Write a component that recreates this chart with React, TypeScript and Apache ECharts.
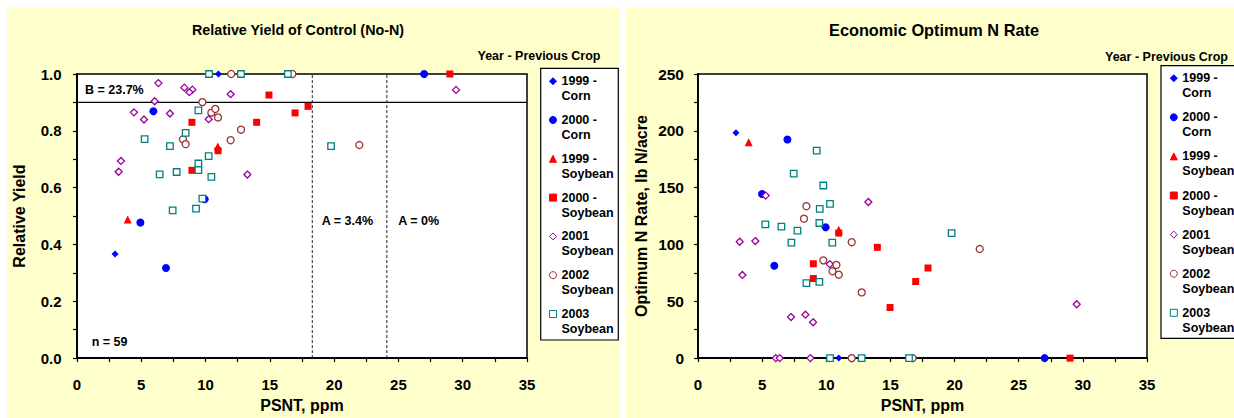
import React, { useEffect, useRef } from "react";
import * as echarts from "echarts";

// ---------- data ----------
const SERIES_NAMES = [
  "1999 -\nCorn",
  "2000 -\nCorn",
  "1999 -\nSoybean",
  "2000 -\nSoybean",
  "2001\nSoybean",
  "2002\nSoybean",
  "2003\nSoybean",
];

// Relative yield of control vs PSNT  [PSNT ppm, relative yield]
const ryCorn1999 = [[2.96, 0.366], [11.0, 1.0]];
const ryCorn2000 = [[5.94, 0.869], [9.93, 0.559], [4.93, 0.477], [6.92, 0.317], [27.0, 1.0]];
const rySoy1999 = [[3.94, 0.488], [10.95, 0.745]];
const rySoy2000 = [[8.94, 0.83], [8.94, 0.661], [14.93, 0.926], [13.97, 0.83], [16.96, 0.863], [17.97, 0.886], [29.0, 1.0], [10.97, 0.73]];
const rySoy2001 = [[6.33, 0.968], [8.35, 0.952], [8.97, 0.945], [8.74, 0.936], [11.95, 0.929], [6.04, 0.904], [4.43, 0.865], [5.21, 0.84], [7.23, 0.861], [10.24, 0.841], [3.42, 0.694], [3.24, 0.656], [13.25, 0.646], [29.48, 0.944]];
const rySoy2002 = [[12.0, 1.0], [16.75, 1.0], [9.75, 0.901], [10.45, 0.864], [10.76, 0.877], [10.97, 0.847], [12.76, 0.804], [8.24, 0.77], [8.45, 0.753], [11.95, 0.767], [21.96, 0.75]];
const rySoy2003 = [[10.27, 1.0], [12.75, 1.0], [16.4, 1.0], [9.44, 0.872], [8.45, 0.793], [5.26, 0.771], [7.23, 0.746], [10.24, 0.711], [9.44, 0.685], [9.44, 0.662], [6.43, 0.647], [7.75, 0.655], [10.45, 0.638], [9.75, 0.561], [7.44, 0.52], [9.26, 0.526], [19.76, 0.746]];

// Economic optimum N rate vs PSNT  [PSNT ppm, lb N/acre]
const eoCorn1999 = [[2.96, 198.4], [10.97, 0]];
const eoCorn2000 = [[6.97, 192.4], [4.99, 144.4], [9.95, 115.1], [5.95, 81.3], [27.02, 0]];
const eoSoy1999 = [[3.95, 190], [10.97, 113]];
const eoSoy2000 = [[8.99, 83], [8.99, 70], [13.98, 97.5], [14.97, 44.5], [16.97, 67.4], [17.93, 79.3], [29.0, 0], [10.97, 110]];
const eoSoy2001 = [[5.28, 143], [13.28, 137.4], [3.25, 102.4], [4.47, 103], [3.46, 73.2], [10.27, 82.7], [7.25, 36.1], [8.37, 38.2], [8.97, 31.5], [29.52, 47.4], [6.06, 0], [6.37, 0], [8.76, 0], [11.95, 0]];
const eoSoy2002 = [[8.45, 133.7], [8.26, 122.7], [11.98, 102], [9.77, 86], [10.79, 82], [10.48, 76.4], [10.97, 73.4], [12.76, 57.8], [21.96, 96], [11.98, 0], [16.73, 0]];
const eoSoy2003 = [[9.25, 182.5], [7.46, 162.3], [9.77, 151.9], [10.29, 135.7], [9.49, 131.3], [5.25, 117.7], [6.5, 115.7], [7.75, 112.2], [9.46, 118.9], [7.28, 101.6], [10.47, 101.6], [8.45, 66], [9.46, 67.1], [19.77, 109.9], [10.29, 0], [12.76, 0], [16.45, 0]];

// Reference lines on the relative yield chart
const bLineY = 0.9;
const aLinesX = [18.3, 24.1];
const xRange = [0, 35];
const ryRange = [0, 1];

// ---------- styles ----------
const FONT = "'Liberation Sans', Arial, Helvetica, sans-serif";
const MARKERS = [
  { symbol: "diamond", size: 7, color: "#0000FF", fill: "#0000FF", bw: 0 },
  { symbol: "circle", size: 8, color: "#0000FF", fill: "#0000FF", bw: 0 },
  { symbol: "triangle", size: 8, color: "#FF0000", fill: "#FF0000", bw: 0 },
  { symbol: "rect", size: 7, color: "#FF0000", fill: "#FF0000", bw: 0 },
  { symbol: "diamond", size: 7, color: "#990099", fill: "#FFFFFF", bw: 1.3 },
  { symbol: "circle", size: 7, color: "#993333", fill: "#FFFFFF", bw: 1.3 },
  { symbol: "rect", size: 6.5, color: "#008080", fill: "#FFFFFF", bw: 1.3 },
];

const RY_DATA = [ryCorn1999, ryCorn2000, rySoy1999, rySoy2000, rySoy2001, rySoy2002, rySoy2003];
const EO_DATA = [eoCorn1999, eoCorn2000, eoSoy1999, eoSoy2000, eoSoy2001, eoSoy2002, eoSoy2003];

function scatter(idx: number, data: number[][], axisIdx: number) {
  const m = MARKERS[idx];
  return {
    type: "scatter",
    name: SERIES_NAMES[idx],
    xAxisIndex: axisIdx,
    yAxisIndex: axisIdx,
    data,
    symbol: m.symbol,
    symbolSize: m.size,
    clip: false,
    z: 5,
    itemStyle: {
      color: m.fill,
      borderColor: m.color,
      borderWidth: m.bw,
      opacity: 1,
    },
  };
}

function xAxis(gridIndex: number) {
  return {
    gridIndex,
    type: "value",
    min: xRange[0],
    max: xRange[1],
    interval: 2.5,
    name: "PSNT, ppm",
    nameLocation: "middle",
    nameGap: 38,
    nameTextStyle: { fontFamily: FONT, fontWeight: "bold", fontSize: 16, color: "#000" },
    axisLine: { show: true, onZero: false, lineStyle: { color: "#000", width: 2 } },
    axisTick: { show: true, inside: false, length: 4, lineStyle: { color: "#000", width: 1.2 } },
    axisLabel: {
      margin: 19,
      fontFamily: FONT,
      fontWeight: "bold",
      fontSize: 15,
      color: "#000",
      formatter: (v: number) => (Math.abs(v % 5) < 1e-6 ? String(v) : ""),
    },
    splitLine: { show: false },
  };
}

const legendText = {
  fontFamily: FONT,
  fontWeight: "bold",
  fontSize: 12.5,
  lineHeight: 15,
  color: "#000",
};

function legend(left: number, top: number, gap: number) {
  return {
    data: SERIES_NAMES,
    orient: "vertical",
    left,
    top,
    padding: 0,
    itemWidth: 7,
    itemHeight: 7,
    itemGap: gap,
    selectedMode: false,
    z: 10,
    itemStyle: { borderWidth: 1 },
    // leading blank line keeps the icon level with the first text line
    formatter: (name: string) => "\n" + name,
    textStyle: legendText,
  };
}

export default function App() {
  const ref = useRef<HTMLDivElement>(null);

  useEffect(() => {
    if (!ref.current) return;
    const chart = echarts.init(ref.current, null, { renderer: "svg" });

    const series: any[] = [];
    RY_DATA.forEach((d, i) => series.push(scatter(i, d, 0)));
    EO_DATA.forEach((d, i) => series.push(scatter(i, d, 1)));
    series.push({
      type: "line",
      name: "B line",
      xAxisIndex: 0,
      yAxisIndex: 0,
      data: [[xRange[0], bLineY], [xRange[1], bLineY]],
      symbol: "none",
      silent: true,
      z: 3,
      lineStyle: { color: "#000", width: 1.3 },
    });
    aLinesX.forEach((x, i) =>
      series.push({
        type: "line",
        name: "A line " + i,
        xAxisIndex: 0,
        yAxisIndex: 0,
        data: [[x, ryRange[0]], [x, ryRange[1]]],
        symbol: "none",
        silent: true,
        z: 3,
        lineStyle: { color: "#222", width: 1, type: [3, 2] },
      })
    );

    const txt = (text: string, x: number, y: number, size: number, align = "left") => ({
      type: "text",
      x,
      y,
      z: 20,
      style: {
        text,
        fill: "#000",
        font: `bold ${size}px ${FONT}`,
        align,
        verticalAlign: "middle",
      },
    });

    chart.setOption({
      animation: false,
      backgroundColor: "transparent",
      grid: [
        { left: 77, top: 74, width: 450, height: 287, show: true, backgroundColor: "#fff", borderColor: "#000", borderWidth: 1.5 },
        { left: 698, top: 74, width: 449, height: 288, show: true, backgroundColor: "#fff", borderColor: "#000", borderWidth: 1.5 },
      ],
      xAxis: [xAxis(0), xAxis(1)],
      yAxis: [
        {
          gridIndex: 0,
          type: "value",
          min: ryRange[0],
          max: ryRange[1],
          interval: 0.1,
          name: "Relative Yield",
          nameLocation: "middle",
          nameGap: 50,
          nameTextStyle: { fontFamily: FONT, fontWeight: "bold", fontSize: 16, color: "#000" },
          axisLine: { show: true, lineStyle: { color: "#000", width: 2 } },
          axisTick: { show: true, length: 4, lineStyle: { color: "#000", width: 1.2 } },
          axisLabel: {
            margin: 15.5,
            fontFamily: FONT,
            fontWeight: "bold",
            fontSize: 15,
            color: "#000",
            formatter: (v: number) => (Math.round(v * 10) % 2 === 0 ? v.toFixed(1) : ""),
          },
          splitLine: { show: false },
        },
        {
          gridIndex: 1,
          type: "value",
          min: 0,
          max: 250,
          interval: 25,
          name: "Optimum N Rate, lb N/acre",
          nameLocation: "middle",
          nameGap: 49,
          nameTextStyle: { fontFamily: FONT, fontWeight: "bold", fontSize: 16, color: "#000" },
          axisLine: { show: true, lineStyle: { color: "#000", width: 2 } },
          axisTick: { show: true, length: 4, lineStyle: { color: "#000", width: 1.2 } },
          axisLabel: {
            margin: 14,
            fontFamily: FONT,
            fontWeight: "bold",
            fontSize: 15.5,
            color: "#000",
            formatter: (v: number) => (v % 50 === 0 ? String(v) : ""),
          },
          splitLine: { show: false },
        },
      ],
      legend: [legend(549, 58.7, -6.2), legend(1169.8, 55.7, -5.9)],
      graphic: [
        { type: "rect", z: 1, shape: { x: 540.7, y: 68.3, width: 77.6, height: 271.7 }, style: { fill: "#fff", stroke: "#000", lineWidth: 1.2 } },
        { type: "rect", z: 1, shape: { x: 1161, y: 65.7, width: 85, height: 272.6 }, style: { fill: "#fff", stroke: "#000", lineWidth: 1.2 } },
        txt("Relative Yield of Control (No-N)", 298, 30, 14.3, "center"),
        txt("Economic Optimum N Rate", 934, 30, 16.3, "center"),
        txt("Year - Previous Crop", 539, 56, 12.5, "center"),
        txt("Year - Previous Crop", 1166.5, 57, 12.5, "center"),
        txt("B = 23.7%", 85, 89.5, 12.5),
        txt("A = 3.4%", 321.7, 221, 12.5),
        txt("A = 0%", 398.3, 221, 12.5),
        txt("n = 59", 91.7, 341.7, 12.5),
      ],
      series,
    });

    return () => chart.dispose();
  }, []);

  return (
    <div style={{ position: "fixed", left: 0, top: 0, width: 1234, height: 418, background: "#fff", overflow: "hidden" }}>
      <div style={{ position: "absolute", left: 7, top: 7, width: 613, height: 411, background: "#FFFFCC" }} />
      <div style={{ position: "absolute", left: 626, top: 7, width: 608, height: 411, background: "#FFFFCC" }} />
      <div ref={ref} style={{ position: "absolute", left: 0, top: 0, width: 1234, height: 418 }} />
    </div>
  );
}
